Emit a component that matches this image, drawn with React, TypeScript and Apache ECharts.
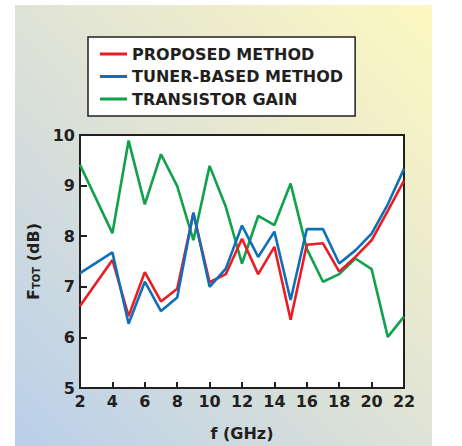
import React, { useEffect, useRef } from "react";
import * as echarts from "echarts";

const freq = [2, 4, 5, 6, 7, 8, 9, 10, 11, 12, 13, 14, 15, 16, 17, 18, 19, 20, 21, 22];
const proposed = [6.62, 7.53, 6.42, 7.29, 6.71, 6.96, 8.45, 7.09, 7.25, 7.95, 7.25, 7.79, 6.35, 7.83, 7.86, 7.3, 7.59, 7.92, 8.5, 9.1];
const tuner = [7.27, 7.68, 6.27, 7.1, 6.52, 6.79, 8.47, 7.0, 7.36, 8.21, 7.59, 8.09, 6.74, 8.14, 8.14, 7.46, 7.72, 8.05, 8.63, 9.33];
const gain = [9.41, 8.06, 9.89, 8.63, 9.62, 8.99, 7.92, 9.39, 8.58, 7.46, 8.4, 8.22, 9.04, 7.75, 7.1, 7.25, 7.56, 7.35, 6.01, 6.41];
const seriesNames = ["PROPOSED METHOD", "TUNER-BASED METHOD", "TRANSISTOR GAIN"];

const FONT = "'DejaVu Sans', sans-serif";
const INK = "#231f20";

export default function App() {
  const ref = useRef<HTMLDivElement>(null);
  useEffect(() => {
    const chart = echarts.init(ref.current!, null, { renderer: "svg" });
    const pair = (ys: number[]) => freq.map((f, i) => [f, ys[i]]);
    chart.setOption({
      animation: false,
      graphic: [
        {
          type: "rect",
          z: -10,
          silent: true,
          shape: { x: 15, y: 5, width: 417, height: 441 },
          style: {
            fill: new echarts.graphic.LinearGradient(0, 1, 1, 0, [
              { offset: 0, color: "#b9cfea" },
              { offset: 0.5, color: "#dfe3d6" },
              { offset: 1, color: "#fdf8c0" },
            ]),
          },
        },
      ],
      legend: {
        left: 88,
        top: 37,
        orient: "vertical",
        backgroundColor: "#ffffff",
        borderColor: INK,
        borderWidth: 1.5,
        borderRadius: 0,
        padding: [9, 12, 9, 12],
        itemGap: 6.5,
        itemWidth: 27,
        itemHeight: 3,
        icon: "rect",
        data: seriesNames,
        textStyle: {
          fontFamily: FONT,
          fontWeight: "bold",
          fontSize: 16,
          lineHeight: 16,
          color: INK,
        },
      },
      grid: {
        left: 80,
        right: 58,
        top: 135,
        bottom: 55,
        show: true,
        backgroundColor: "#ffffff",
        borderColor: INK,
        borderWidth: 2,
      },
      xAxis: {
        type: "value",
        min: 2,
        max: 22,
        interval: 2,
        name: "f (GHz)",
        nameLocation: "middle",
        nameGap: 37,
        nameTextStyle: { fontFamily: FONT, fontWeight: "bold", fontSize: 16, color: INK },
        axisLine: { lineStyle: { color: INK, width: 2 } },
        axisTick: { inside: true, length: 6, lineStyle: { color: INK, width: 2 } },
        axisLabel: { fontFamily: FONT, fontWeight: "bold", fontSize: 16, color: INK, margin: 5 },
        splitLine: { show: false },
      },
      yAxis: {
        type: "value",
        min: 5,
        max: 10,
        interval: 1,
        name: "{f|F}{s|TOT}{f| (dB)}",
        nameLocation: "middle",
        nameGap: 34,
        nameRotate: 90,
        nameTextStyle: {
          fontFamily: FONT,
          fontWeight: "bold",
          fontSize: 16,
          color: INK,
          rich: {
            f: { fontFamily: FONT, fontWeight: "bold", fontSize: 16, color: INK, verticalAlign: "bottom", lineHeight: 20 },
            s: { fontFamily: FONT, fontWeight: "bold", fontSize: 10, color: INK, verticalAlign: "bottom", lineHeight: 14 },
          },
        },
        axisLine: { lineStyle: { color: INK, width: 2 } },
        axisTick: { inside: true, length: 7, lineStyle: { color: INK, width: 2 } },
        axisLabel: { fontFamily: FONT, fontWeight: "bold", fontSize: 16, color: INK, margin: 5 },
        splitLine: { show: false },
      },
      series: [
        {
          name: seriesNames[2],
          type: "line",
          data: pair(gain),
          showSymbol: false,
          symbol: "none",
          color: "#0fa14b",
          lineStyle: { width: 2.6, color: "#0fa14b" },
          z: 2,
        },
        {
          name: seriesNames[0],
          type: "line",
          data: pair(proposed),
          showSymbol: false,
          symbol: "none",
          color: "#ec1c24",
          lineStyle: { width: 2.6, color: "#ec1c24" },
          z: 3,
        },
        {
          name: seriesNames[1],
          type: "line",
          data: pair(tuner),
          showSymbol: false,
          symbol: "none",
          color: "#0f6fb8",
          lineStyle: { width: 2.6, color: "#0f6fb8" },
          z: 4,
        },
      ],
    });
    return () => chart.dispose();
  }, []);
  return (
    <div
      ref={ref}
      style={{ position: "absolute", left: 0, top: 0, width: 462, height: 446, background: "#ffffff" }}
    />
  );
}
